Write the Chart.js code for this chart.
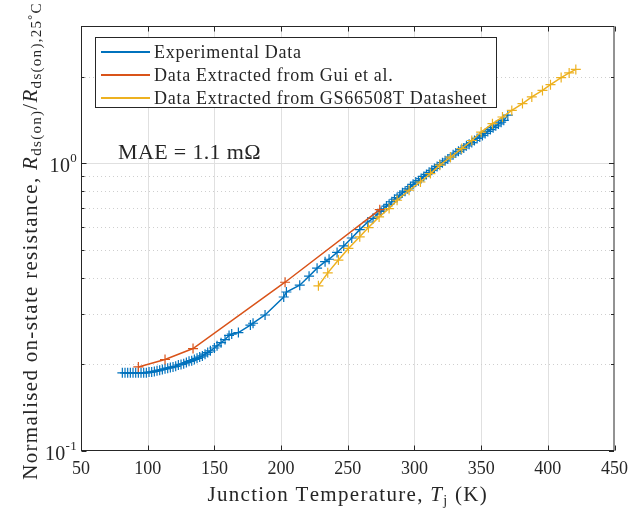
<!DOCTYPE html>
<html>
<head>
<meta charset="utf-8">
<script src="https://cdn.jsdelivr.net/npm/chart.js@4.4.1/dist/chart.umd.min.js"></script>
<style>
  html, body { margin: 0; padding: 0; background: #fff; }
  #wrap { width: 635px; height: 511px; }
</style>
</head>
<body>
<div id="wrap"><canvas id="rdsChart" width="635" height="511"></canvas></div>
<script>
// experimental data (blue)
const expTemp = [81, 83, 85, 87, 89, 91, 93, 95, 97, 99, 101, 103, 105, 107, 109, 111, 113, 115, 117, 119,
  121, 123, 125, 127, 129, 131, 133, 135, 137, 139, 141, 143, 145, 147, 150, 152, 155, 158, 161, 163,
  168, 177, 179, 188, 202, 204, 214, 221, 227, 233, 236, 242, 247, 253, 259, 265, 269, 272, 275, 277,
  279, 281, 283, 285, 287, 289, 291, 293, 295, 297, 299, 301, 303, 305, 307, 309, 311, 313, 315, 317,
  319, 321, 323, 325, 327, 329, 331, 333, 335, 337, 339, 341, 343, 345, 347, 349, 351, 353, 355, 357,
  359, 361, 363, 365, 367, 370];
const expRatio = [0.187, 0.187, 0.187, 0.187, 0.187, 0.187, 0.187, 0.187, 0.187, 0.187, 0.188, 0.188, 0.189, 0.190, 0.191, 0.192, 0.193, 0.194, 0.195, 0.196,
  0.197, 0.199, 0.200, 0.201, 0.203, 0.205, 0.206, 0.208, 0.210, 0.212, 0.214, 0.217, 0.220, 0.223, 0.228, 0.232, 0.238, 0.244, 0.252, 0.255,
  0.258, 0.274, 0.278, 0.297, 0.343, 0.357, 0.377, 0.405, 0.432, 0.455, 0.464, 0.49, 0.516, 0.55, 0.588, 0.625, 0.643, 0.665, 0.68, 0.695,
  0.71, 0.72, 0.735, 0.75, 0.76, 0.775, 0.79, 0.80, 0.815, 0.83, 0.845, 0.86, 0.87, 0.885, 0.90, 0.915, 0.93, 0.945, 0.96, 0.975,
  0.99, 1.005, 1.02, 1.035, 1.05, 1.07, 1.085, 1.10, 1.115, 1.13, 1.15, 1.165, 1.18, 1.20, 1.22, 1.235, 1.25, 1.27, 1.29, 1.31,
  1.33, 1.35, 1.37, 1.39, 1.41, 1.47];

// Gui et al. (orange)
const guiTemp = [93, 113, 134, 203, 274];
const guiRatio = [0.196, 0.208, 0.227, 0.386, 0.69];

// GS66508T datasheet (yellow)
const dsTemp = [228, 235, 243, 250.5, 259, 265.5, 273.5, 281, 287, 296, 304.5, 312, 319, 327, 335.5, 343, 350, 358.5,
  366, 373, 381, 388, 396, 402, 410, 416, 421];
const dsRatio = [0.375, 0.416, 0.461, 0.506, 0.555, 0.598, 0.651, 0.696, 0.744, 0.806, 0.861, 0.921, 0.985, 1.05, 1.125, 1.20, 1.284, 1.373,
  1.448, 1.527, 1.612, 1.70, 1.792, 1.876, 1.985, 2.06, 2.12];

const seriesNames = ['Experimental Data', 'Data Extracted from Gui et al.', 'Data Extracted from GS66508T Datasheet'];
const seriesColors = ['#0072BD', '#D95319', '#EDB120'];

const xTicks = [50, 100, 150, 200, 250, 300, 350, 400, 450];
const yMajor = [0.1, 1];
const yMinor = [0.2, 0.3, 0.4, 0.5, 0.6, 0.7, 0.8, 0.9, 2];
const maeText = 'MAE = 1.1 m\u03A9';

const serif = "'Liberation Serif', 'Times New Roman', serif";
const axisCol = '#262626';

function pts(xs, ys) {
  return xs.map((x, i) => ({ x: x, y: ys[i] }));
}

// draws a run of text pieces one char at a time, with extra spacing (the
// reference uses a wider LaTeX font than the installed serif)
function richText(ctx, parts, x, y, align, sp) {
  sp = sp || 0;
  let w = 0;
  parts.forEach(p => {
    ctx.font = (p.style || '') + ' ' + p.size + 'px ' + serif;
    p.w = 0;
    for (const ch of p.t) p.w += ctx.measureText(ch).width + sp;
    w += p.w;
  });
  let cx = align === 'center' ? x - w / 2 : (align === 'right' ? x - w : x);
  parts.forEach(p => {
    ctx.font = (p.style || '') + ' ' + p.size + 'px ' + serif;
    for (const ch of p.t) {
      ctx.fillText(ch, cx, y + (p.dy || 0));
      cx += ctx.measureText(ch).width + sp;
    }
  });
  return w;
}

const matlabAxes = {
  id: 'matlabAxes',
  beforeDatasetsDraw(chart) {
    const { ctx, chartArea: a, scales: { x, y } } = chart;
    ctx.save();
    ctx.lineWidth = 1;
    // x grid
    ctx.strokeStyle = '#e0e0e0';
    xTicks.forEach(t => {
      const px = Math.round(x.getPixelForValue(t)) + 0.5;
      if (px <= a.left + 1 || px >= a.right - 1) return;
      ctx.beginPath(); ctx.moveTo(px, a.top); ctx.lineTo(px, a.bottom); ctx.stroke();
    });
    // y major grid
    yMajor.forEach(t => {
      const py = Math.round(y.getPixelForValue(t)) + 0.5;
      if (py >= a.bottom - 1) return;
      ctx.beginPath(); ctx.moveTo(a.left, py); ctx.lineTo(a.right, py); ctx.stroke();
    });
    // y minor grid, dotted
    ctx.strokeStyle = '#cfcfcf';
    ctx.setLineDash([1, 3]);
    yMinor.forEach(t => {
      const py = Math.round(y.getPixelForValue(t)) + 0.5;
      ctx.beginPath(); ctx.moveTo(a.left, py); ctx.lineTo(a.right, py); ctx.stroke();
    });
    ctx.restore();
  },
  afterDatasetsDraw(chart) {
    const { ctx, chartArea: a, scales: { x, y } } = chart;
    ctx.save();
    ctx.strokeStyle = axisCol;
    ctx.lineWidth = 1;
    const L = a.left + 0.5, R = a.right - 0.5, T = a.top + 0.5, B = a.bottom - 0.5;
    ctx.strokeRect(L, T, R - L, B - T);
    // ticks pointing in
    ctx.beginPath();
    xTicks.forEach(t => {
      const px = Math.round(x.getPixelForValue(t)) + 0.5;
      ctx.moveTo(px, B); ctx.lineTo(px, B - 5);
      ctx.moveTo(px, T); ctx.lineTo(px, T + 5);
    });
    yMajor.forEach(t => {
      const py = Math.round(y.getPixelForValue(t)) + 0.5;
      ctx.moveTo(L, py); ctx.lineTo(L + 5, py);
      ctx.moveTo(R, py); ctx.lineTo(R - 5, py);
    });
    yMinor.forEach(t => {
      const py = Math.round(y.getPixelForValue(t)) + 0.5;
      ctx.moveTo(L, py); ctx.lineTo(L + 3, py);
      ctx.moveTo(R, py); ctx.lineTo(R - 3, py);
    });
    ctx.stroke();

    ctx.fillStyle = axisCol;
    ctx.textBaseline = 'alphabetic';
    // y tick labels 10^0, 10^-1
    yMajor.forEach(t => {
      const py = y.getPixelForValue(t);
      const e = Math.round(Math.log10(t));
      richText(ctx, [
        { t: '10', size: 20 },
        { t: e < 0 ? '-' + (-e) : String(e), size: 13, dy: -10 }
      ], 77, py + 9, 'right', 0.3);
    });

    // MAE annotation
    richText(ctx, [{ t: maeText, size: 22 }], 118, 159, 'left', 0.35);

    // legend box
    const lx = 95.5, ly = 37.5, lw = 401, lh = 70;
    ctx.fillStyle = '#fff';
    ctx.fillRect(lx, ly, lw, lh);
    ctx.strokeStyle = '#262626';
    ctx.strokeRect(lx, ly, lw, lh);
    seriesNames.forEach((name, i) => {
      const yy = 52 + i * 23;
      ctx.strokeStyle = seriesColors[i];
      ctx.lineWidth = 2;
      ctx.beginPath(); ctx.moveTo(101, yy); ctx.lineTo(150, yy); ctx.stroke();
      ctx.fillStyle = axisCol;
      richText(ctx, [{ t: name, size: 18 }], 154, yy + 6, 'left', 0.72);
    });

    // x axis title
    ctx.fillStyle = axisCol;
    richText(ctx, [
      { t: 'Junction Temperature, ', size: 21 },
      { t: 'T', size: 21, style: 'italic' },
      { t: 'j', size: 14, dy: 4 },
      { t: ' (K)', size: 21 }
    ], (a.left + a.right) / 2, 501, 'center', 1.3);

    // y axis title
    ctx.save();
    ctx.translate(37, 241);
    ctx.rotate(-Math.PI / 2);
    richText(ctx, [
      { t: 'Normalised on-state resistance, ', size: 21 },
      { t: 'R', size: 21, style: 'italic' },
      { t: 'ds(on)', size: 15, dy: 4 },
      { t: '/', size: 21 },
      { t: 'R', size: 21, style: 'italic' },
      { t: 'ds(on),25', size: 15, dy: 4 },
      { t: '\u00B0', size: 12, dy: -1 },
      { t: 'C', size: 15, dy: 4 }
    ], 0, 0, 'center', 1.3);
    ctx.restore();
    ctx.restore();
  }
};

const ctx = document.getElementById('rdsChart').getContext('2d');

const chart = new Chart(ctx, {
  type: 'scatter',
  data: {
    datasets: [
      {
        label: seriesNames[0],
        data: pts(expTemp, expRatio),
        showLine: true,
        borderColor: seriesColors[0],
        backgroundColor: seriesColors[0],
        borderWidth: 1.5,
        pointStyle: 'cross',
        pointRadius: 5,
        pointBorderWidth: 1.2,
        order: 3
      },
      {
        label: seriesNames[1],
        data: pts(guiTemp, guiRatio),
        showLine: true,
        borderColor: seriesColors[1],
        backgroundColor: seriesColors[1],
        borderWidth: 1.5,
        pointStyle: 'cross',
        pointRadius: 5,
        pointBorderWidth: 1.2,
        order: 2
      },
      {
        label: seriesNames[2],
        data: pts(dsTemp, dsRatio),
        showLine: true,
        borderColor: seriesColors[2],
        backgroundColor: seriesColors[2],
        borderWidth: 1.5,
        pointStyle: 'cross',
        pointRadius: 5,
        pointBorderWidth: 1.2,
        order: 1
      }
    ]
  },
  options: {
    responsive: false,
    animation: false,
    devicePixelRatio: 1,
    layout: { padding: { top: 26, right: 17, left: 0, bottom: 0 } },
    plugins: {
      legend: { display: false },
      tooltip: { enabled: false }
    },
    scales: {
      x: {
        type: 'linear',
        min: 50,
        max: 450,
        afterBuildTicks: s => { s.ticks = xTicks.map(v => ({ value: v })); },
        afterFit: s => { s.height = 60; },
        grid: { display: false, drawTicks: false },
        border: { display: false },
        ticks: {
          color: axisCol,
          padding: 7,
          maxRotation: 0,
          font: { family: serif, size: 18 }
        }
      },
      y: {
        type: 'logarithmic',
        min: 0.1,
        max: 3,
        afterFit: s => { s.width = 81; },
        grid: { display: false, drawTicks: false },
        border: { display: false },
        ticks: { callback: () => '' }
      }
    }
  },
  plugins: [matlabAxes]
});
</script>
</body>
</html>
